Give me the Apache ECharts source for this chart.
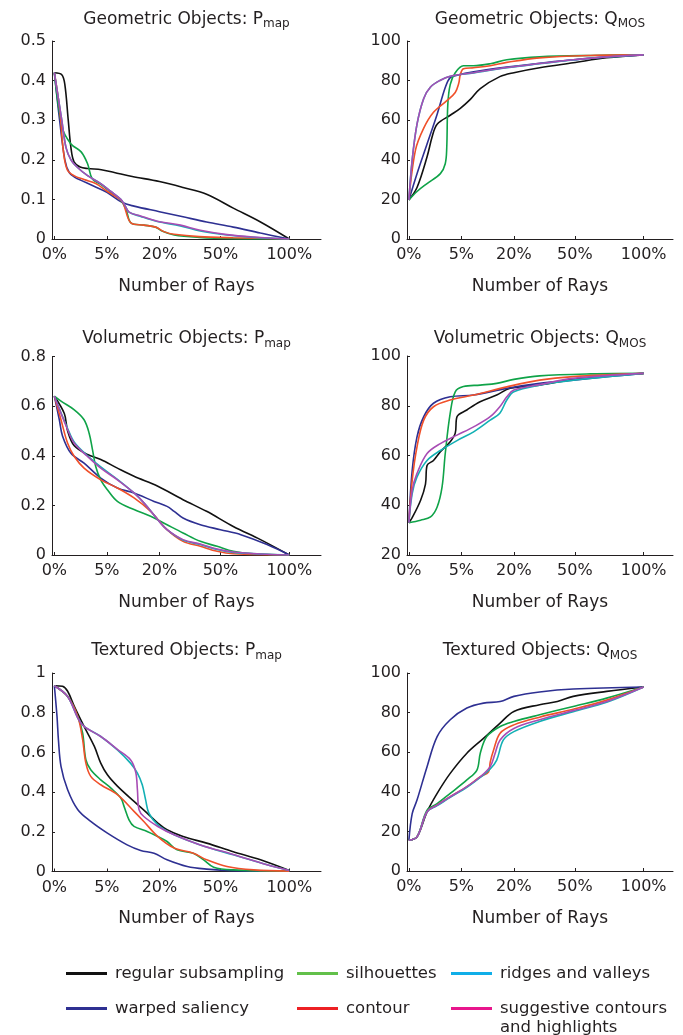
<!DOCTYPE html>
<html>
<head>
<meta charset="utf-8">
<script src="https://cdn.jsdelivr.net/npm/echarts@6/dist/echarts.min.js"></script>
<style>
html,body{margin:0;padding:0;background:#fff;}
#chart{width:683px;height:1035px;}
</style>
</head>
<body>
<div id="chart"></div>
<script>
// ---- tick labels (percent of rays, x axis drawn on a square-root scale) ----
const xTickPct = [0, 5, 20, 50, 100];
const methods = ['regular subsampling', 'warped saliency', 'silhouettes', 'contour', 'ridges and valleys', 'suggestive contours and highlights'];

// ---- Geometric Objects: Pmap  ([percent of rays, value]) ----
const geoP_regular = [[0,0.42],[0.1,0.415],[0.2,0.39],[0.35,0.3],[0.5,0.23],[0.7,0.195],[1.2,0.182],[2,0.178],[4,0.175],[6.5,0.168],[11,0.158],[20,0.145],[30,0.13],[42,0.113],[58,0.078],[77,0.043],[100,0]];
const geoP_warped = [[0,0.42],[0.05,0.3],[0.2,0.2],[0.4,0.168],[0.8,0.155],[1.3,0.148],[3,0.132],[5,0.118],[8.4,0.092],[11.5,0.083],[20,0.069],[30,0.056],[42,0.043],[58,0.03],[77,0.015],[100,0]];
const geoP_silhouettes = [[0,0.42],[0.12,0.28],[0.5,0.24],[1.3,0.22],[2.0,0.19],[2.6,0.152],[3.9,0.138],[5.8,0.118],[8,0.098],[9.3,0.075],[10.7,0.04],[14.5,0.035],[18.6,0.03],[21,0.02],[26,0.01],[38,0.004],[58,0.001],[100,0]];
const geoP_contour = [[0,0.42],[0.05,0.33],[0.15,0.22],[0.3,0.175],[0.7,0.16],[1.6,0.15],[3.1,0.14],[5.1,0.12],[7.8,0.1],[8.6,0.09],[10.7,0.04],[14.5,0.035],[18.6,0.03],[22,0.018],[26,0.012],[38,0.006],[58,0.003],[100,0]];
const geoP_ridges = [[0,0.42],[0.1,0.3],[0.25,0.23],[0.5,0.2],[1.0,0.18],[2.0,0.16],[3.9,0.14],[5.8,0.12],[8,0.1],[9,0.085],[10.1,0.068],[13.5,0.057],[19.2,0.044],[28.8,0.033],[38.6,0.02],[54,0.01],[72,0.004],[100,0]];
const geoP_suggestive = [[0,0.42],[0.1,0.3],[0.25,0.23],[0.5,0.2],[1.0,0.18],[2.0,0.16],[3.9,0.14],[5.8,0.12],[8,0.1],[9,0.085],[10.1,0.068],[13.5,0.058],[19.2,0.045],[28.8,0.035],[38.6,0.022],[54,0.011],[72,0.005],[100,0]];

// ---- Geometric Objects: QMOS ----
const geoQ_regular = [[0,19.7],[0.12,26],[0.6,41.5],[1.0,52],[1.45,58],[3.1,62.5],[4.8,66],[6.85,70.5],[9.25,76],[15,82],[20,84],[31,86.5],[49,89],[71,91.5],[100,93]];
const geoQ_warped = [[0,19.7],[0.12,33],[0.6,48],[1.45,63],[2.4,76.5],[3.1,81.5],[4.2,82.7],[7.6,84.4],[17.4,86.8],[31,88.8],[49,90.5],[71,92],[100,93]];
const geoQ_silhouettes = [[0,19.7],[0.12,24],[0.6,28],[1.8,33],[2.4,38],[2.6,46],[2.75,68],[3.1,78],[3.9,84],[5.4,87.5],[7.6,87.5],[12,88.5],[17.4,90.5],[31,92],[60,92.7],[100,93]];
const geoQ_contour = [[0,19.7],[0.08,45],[0.4,56],[1.1,64],[2.65,70],[3.9,74],[4.5,78.5],[4.8,83],[5.4,86],[7.6,86.5],[12,87.5],[17.4,89.2],[31,91.5],[60,92.7],[100,93]];
const geoQ_ridges = [[0,19.7],[0.02,40],[0.12,58],[0.4,71],[0.85,76.8],[1.8,80.2],[3.1,82.2],[7.6,83.9],[17.4,86.5],[31,88.5],[49,90.4],[71,91.9],[100,93]];
const geoQ_suggestive = [[0,19.7],[0.02,40],[0.12,58],[0.4,71],[0.85,76.8],[1.8,80.2],[3.1,82.2],[7.6,84],[17.4,86.6],[31,88.6],[49,90.5],[71,92],[100,93]];

// ---- Volumetric Objects: Pmap ----
const volP_regular = [[0,0.64],[0.18,0.57],[0.32,0.5],[0.72,0.44],[2,0.405],[3.9,0.385],[7.2,0.35],[11.5,0.317],[19.4,0.277],[30,0.223],[42,0.176],[58,0.115],[77,0.062],[100,0]];
const volP_warped = [[0,0.64],[0.045,0.545],[0.12,0.48],[0.5,0.41],[1.6,0.37],[3.9,0.31],[7.2,0.27],[11.5,0.25],[18,0.216],[23,0.196],[26,0.176],[30,0.149],[38.6,0.122],[50,0.102],[63,0.082],[82,0.042],[100,0]];
const volP_silhouettes = [[0,0.64],[0.08,0.62],[0.72,0.585],[1.6,0.545],[2.2,0.49],[2.64,0.424],[3.1,0.357],[3.9,0.303],[5.1,0.263],[7.2,0.216],[11.5,0.183],[16.8,0.156],[23,0.122],[30,0.089],[38.6,0.055],[48,0.035],[58,0.015],[72,0.005],[100,0]];
const volP_contour = [[0,0.64],[0.08,0.545],[0.32,0.45],[0.72,0.397],[1.6,0.35],[3.9,0.303],[7.2,0.27],[11.5,0.23],[16.8,0.176],[23,0.102],[30,0.055],[38.6,0.035],[48,0.015],[58,0.005],[100,0]];
const volP_ridges = [[0,0.64],[0.32,0.51],[0.72,0.455],[2,0.4],[3.9,0.355],[7.2,0.305],[11.5,0.25],[14.6,0.209],[19.4,0.142],[23,0.102],[30,0.06],[38.6,0.042],[48,0.022],[58,0.01],[82,0.003],[100,0]];
const volP_suggestive = [[0,0.64],[0.32,0.505],[0.72,0.45],[2,0.397],[3.9,0.35],[7.2,0.303],[11.5,0.25],[14.6,0.209],[19.4,0.142],[23,0.102],[30,0.062],[38.6,0.044],[48,0.024],[58,0.012],[82,0.003],[100,0]];

// ---- Volumetric Objects: QMOS ----
const volQ_regular = [[0,33],[0.02,35],[0.25,42],[0.5,48.5],[0.6,56],[1.1,58],[1.8,61.5],[3.1,65.5],[3.9,69],[4.2,75.6],[6.1,78.3],[9.2,81.6],[14,84.3],[18.6,87],[31,88.3],[49,90.6],[70,92],[100,93]];
const volQ_warped = [[0,33],[0.02,54],[0.12,67.5],[0.4,75.6],[1.1,81],[3.1,83.6],[7.6,84.3],[17.4,87],[31,89],[49,90.3],[71,91.7],[100,93]];
const volQ_silhouettes = [[0,33],[0.25,34],[0.85,35.3],[1.45,39.3],[2.0,47.4],[2.4,60.8],[3.1,77],[3.9,85.6],[5.4,87.7],[9.2,88.3],[14,89],[20,90.6],[31,92],[60,92.8],[100,93]];
const volQ_contour = [[0,33],[0.02,50],[0.12,63.5],[0.4,74.2],[1.1,79.6],[3.1,82.3],[7.6,84.3],[17.4,87.6],[31,90.3],[49,91.7],[100,93]];
const volQ_ridges = [[0,33],[0.02,44.7],[0.12,51.4],[0.6,58],[1.8,62],[4.2,66],[7.6,69.5],[12,74.2],[15,77],[17.4,82.3],[20,85.6],[31,88.3],[49,90.3],[100,93]];
const volQ_suggestive = [[0,33],[0.02,46],[0.12,52.8],[0.6,60.8],[1.8,64.8],[4.2,68.2],[7.6,71.5],[12,75.6],[15,79.6],[17.4,83.6],[20,86.3],[31,88.5],[49,91],[100,93]];

// ---- Textured Objects: Pmap ----
const texP_regular = [[0,0.936],[0.12,0.933],[0.32,0.908],[0.72,0.832],[1.6,0.731],[2.9,0.63],[3.9,0.546],[5.1,0.487],[7.2,0.43],[11.5,0.353],[15.6,0.294],[19.4,0.244],[23,0.21],[30,0.176],[42,0.143],[58,0.1],[77,0.059],[100,0.005]];
const texP_warped = [[0,0.936],[0.013,0.78],[0.03,0.664],[0.08,0.53],[0.32,0.412],[1,0.311],[2.4,0.252],[5.1,0.193],[9.6,0.134],[13.5,0.106],[18,0.092],[23,0.059],[32,0.025],[42,0.012],[58,0.004],[100,0.001]];
const texP_silhouettes = [[0,0.936],[0.32,0.882],[1,0.78],[1.45,0.697],[1.8,0.563],[2.4,0.513],[3.9,0.462],[5.8,0.42],[8,0.37],[8.8,0.328],[10.1,0.26],[11.5,0.227],[15.6,0.202],[19.4,0.176],[23,0.151],[27.3,0.109],[35,0.092],[40.4,0.059],[46,0.022],[58,0.008],[100,0.002]];
const texP_contour = [[0,0.936],[0.32,0.882],[1,0.78],[1.45,0.664],[1.8,0.546],[2.4,0.479],[3.9,0.437],[7.2,0.387],[11.5,0.303],[14.5,0.252],[19.4,0.176],[26,0.118],[35,0.092],[42,0.059],[54,0.025],[72,0.008],[100,0.002]];
const texP_ridges = [[0,0.936],[0.32,0.882],[1,0.773],[1.6,0.731],[3.9,0.68],[7.2,0.613],[10.5,0.546],[12.5,0.496],[14,0.437],[15.1,0.361],[16.2,0.294],[19.4,0.235],[26,0.185],[38.6,0.134],[58,0.084],[82,0.034],[100,0.005]];
const texP_suggestive = [[0,0.936],[0.32,0.882],[1,0.773],[1.6,0.731],[3.9,0.68],[7.2,0.615],[10.5,0.563],[12,0.5],[12.5,0.412],[13,0.311],[14.5,0.277],[19.4,0.227],[26,0.185],[38.6,0.134],[58,0.086],[82,0.034],[100,0.005]];

// ---- Textured Objects: QMOS ----
const texQ_regular = [[0,15.5],[0.12,17.2],[0.6,29.9],[1.45,39.2],[3.1,49.3],[6.1,59.5],[10.1,67],[15.1,74.7],[20,80.6],[31,84],[40,85.6],[49,88.2],[71,90.7],[100,92.9]];
const texQ_warped = [[0,15.5],[0.02,29],[0.12,35.8],[0.6,52.7],[1.45,67.9],[3.1,76.4],[6.1,82.3],[10.1,84.8],[15.1,85.6],[20,88.2],[31,90.4],[49,91.9],[100,92.9]];
const texQ_silhouettes = [[0,15.5],[0.12,17.2],[0.6,30.7],[1.45,34],[3.1,39.2],[6.1,46],[8.4,51],[9.25,59.5],[11,67.9],[15.1,73],[20,75.5],[31,78.9],[49,83.1],[71,87.3],[100,92.9]];
const texQ_contour = [[0,15.5],[0.12,17.2],[0.6,30],[1.45,33.3],[3.1,37.5],[6.1,42.6],[9.25,47.6],[11.5,50],[12,55],[13,61],[15.1,69.6],[20,73.8],[31,77.7],[49,81.7],[71,86.3],[100,92.9]];
const texQ_ridges = [[0,15.5],[0.12,17.2],[0.6,29.9],[1.45,33],[3.1,37.2],[6.1,42.3],[9.25,47.3],[12,51.5],[14,56],[16.2,66.2],[20,70.4],[31,75.5],[49,80.5],[71,85.2],[100,92.9]];
const texQ_suggestive = [[0,15.5],[0.12,17.2],[0.6,29.9],[1.45,33.3],[3.1,37.5],[6.1,42.6],[9.25,47.6],[12,52.7],[13.5,59.5],[15.1,66.2],[20,72],[31,76.4],[49,81],[71,85.6],[100,92.9]];

// ---- panel titles and y ranges ----
const panelTitles = [['Geometric Objects: P','map'],['Geometric Objects: Q','MOS'],['Volumetric Objects: P','map'],['Volumetric Objects: Q','MOS'],['Textured Objects: P','map'],['Textured Objects: Q','MOS']];
const yMin = [0, 0, 0, 20, 0, 0];
const yMax = [0.5, 100, 0.8, 100, 1, 100];
const yStep = [0.1, 20, 0.2, 20, 0.2, 20];

const panelData = [
  [geoP_regular, geoP_warped, geoP_silhouettes, geoP_contour, geoP_ridges, geoP_suggestive],
  [geoQ_regular, geoQ_warped, geoQ_silhouettes, geoQ_contour, geoQ_ridges, geoQ_suggestive],
  [volP_regular, volP_warped, volP_silhouettes, volP_contour, volP_ridges, volP_suggestive],
  [volQ_regular, volQ_warped, volQ_silhouettes, volQ_contour, volQ_ridges, volQ_suggestive],
  [texP_regular, texP_warped, texP_silhouettes, texP_contour, texP_ridges, texP_suggestive],
  [texQ_regular, texQ_warped, texQ_silhouettes, texQ_contour, texQ_ridges, texQ_suggestive]
];

// ---- styling ----
const FONT = 'DejaVu Sans';
const TXT = '#231f20';
const lineColors = ['#111111', '#2e3092', '#0fa348', '#f0502a', '#12b0b4', '#a84cb4'];
const legendColors = ['#111111', '#2e3092', '#62c04a', '#ed2024', '#10aee8', '#e8168c'];
const drawOrder = [0, 1, 2, 3, 4, 5];

const gridPos = [
  {left: 52, top: 41, width: 269, height: 198},
  {left: 407, top: 41, width: 266, height: 198},
  {left: 52, top: 356.5, width: 269, height: 198.5},
  {left: 407, top: 356, width: 266, height: 199},
  {left: 52, top: 673, width: 269, height: 198.5},
  {left: 407, top: 673, width: 266, height: 198}
];
const titleCenterY = [20.5, 20.5, 340, 340, 652, 652];

// x axis range in sqrt(percent) units
const xMinSqrt = [-0.1, -0.08, -0.1, -0.08, -0.1, -0.08];
const xMaxSqrt = [11.35, 11.25, 11.35, 11.25, 11.35, 11.25];
const xTickPos = xTickPct.map(p => Math.sqrt(p));

const grids = [], xAxes = [], yAxes = [], series = [], titles = [];
gridPos.forEach((g, i) => {
  grids.push({left: g.left, top: g.top, width: g.width, height: g.height});
  xAxes.push({
    type: 'value', gridIndex: i, min: xMinSqrt[i], max: xMaxSqrt[i],
    name: 'Number of Rays', nameLocation: 'middle', nameGap: 39,
    nameTextStyle: {fontFamily: FONT, fontSize: 17, color: TXT},
    axisLine: {show: true, onZero: false, lineStyle: {color: TXT, width: 1}},
    axisTick: {show: true, inside: true, length: 3, customValues: xTickPos, lineStyle: {color: TXT}},
    axisLabel: {show: true, customValues: xTickPos, margin: 8, fontFamily: FONT, fontSize: 16, color: TXT,
      formatter: v => Math.round(v * v) + '%'},
    splitLine: {show: false}
  });
  yAxes.push({
    type: 'value', gridIndex: i, min: yMin[i], max: yMax[i], interval: yStep[i],
    axisLine: {show: true, onZero: false, lineStyle: {color: TXT, width: 1}},
    axisTick: {show: true, inside: true, length: 3, lineStyle: {color: TXT}},
    axisLabel: {margin: 6, fontFamily: FONT, fontSize: 16, color: TXT,
      formatter: v => String(Math.round(v * 10) / 10)},
    splitLine: {show: false}
  });
  titles.push({
    type: 'text',
    x: g.left + g.width / 2, y: titleCenterY[i],
    style: {
      text: '{a|' + panelTitles[i][0] + '}{s|' + panelTitles[i][1] + '}',
      align: 'center', verticalAlign: 'middle',
      rich: {
        a: {fontFamily: FONT, fontSize: 17, fill: TXT, verticalAlign: 'top', lineHeight: 19},
        s: {fontFamily: FONT, fontSize: 12, fill: TXT, verticalAlign: 'bottom', lineHeight: 13, padding: [7, 0, 0, 0]}
      }
    }
  });
  drawOrder.forEach(j => {
    series.push({
      type: 'line', name: methods[j], xAxisIndex: i, yAxisIndex: i,
      data: panelData[i][j].map(d => [Math.sqrt(d[0]), d[1]]),
      smooth: 0.35, symbol: 'none', silent: true,
      lineStyle: {color: lineColors[j], width: 1.6},
      itemStyle: {color: lineColors[j]},
      z: 2 + j
    });
  });
});

// ---- legend (two rows, three columns) ----
const legendPos = [
  {j: 0, left: 66, top: 965}, {j: 2, left: 297, top: 965}, {j: 4, left: 451, top: 965},
  {j: 1, left: 66, top: 1000}, {j: 3, left: 297, top: 1000}, {j: 5, left: 451, top: 1000}
];
const legends = legendPos.map(p => ({
  left: p.left, top: p.top, padding: 0, orient: 'horizontal', selectedMode: false,
  icon: 'rect', itemWidth: 41, itemHeight: 3,
  data: [{name: methods[p.j], itemStyle: {color: legendColors[p.j]}}],
  formatter: name => name === 'suggestive contours and highlights' ? 'suggestive contours' : name,
  textStyle: {fontFamily: FONT, fontSize: 16.5, color: TXT, padding: [0, 0, 0, 3]}
}));

titles.push({
  type: 'text', x: 500, y: 1027.5,
  style: {text: 'and highlights', fontFamily: FONT, fontSize: 16.5, fill: TXT, align: 'left', verticalAlign: 'middle'}
});

const chart = echarts.init(document.getElementById('chart'), null, {renderer: 'canvas'});
chart.setOption({
  backgroundColor: '#ffffff',
  animation: false,
  grid: grids, xAxis: xAxes, yAxis: yAxes, series: series,
  legend: legends,
  graphic: titles
});
</script>
</body>
</html>
